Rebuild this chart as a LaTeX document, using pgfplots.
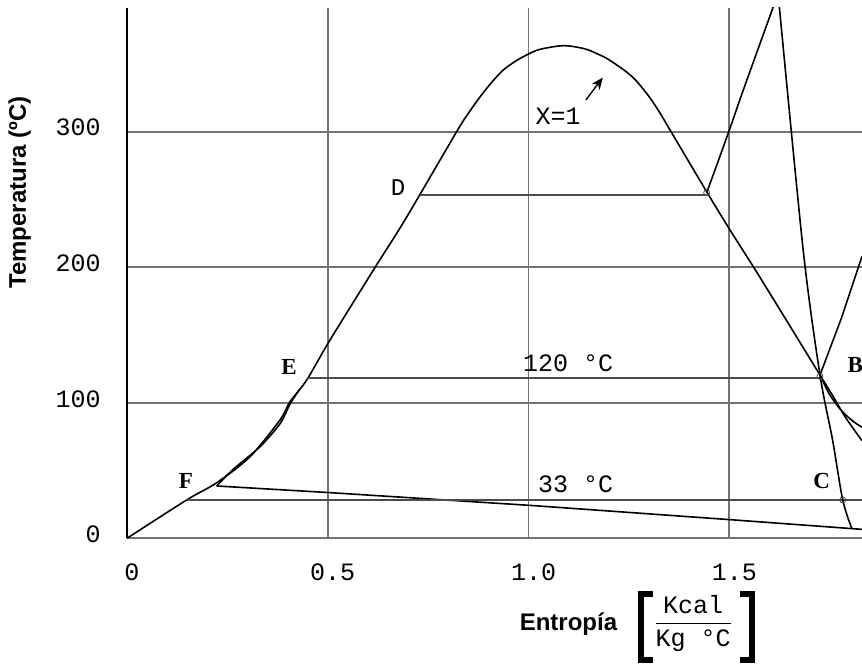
\documentclass[border=0pt]{standalone}
\usepackage{pgfplots}
\pgfplotsset{compat=1.18}
\usepackage{fontspec}
\setmainfont{Liberation Serif}
\setsansfont{Liberation Sans}
\setmonofont{Liberation Mono}
\usetikzlibrary{arrows.meta}
\begin{document}
\begin{tikzpicture}
\begin{axis}[name=ax, width=367.5pt, height=265.15pt, scale only axis,
  xmin=0, xmax=1.8306, ymin=0, ymax=391.3,
  axis lines*=left,
  x axis line style={black!55, line width=0.9pt},
  y axis line style={black, line width=0.9pt},
  xtick={0,0.5,1,1.5}, xticklabels={0,0.5,1.0,1.5},
  ytick={0,100,200,300}, yticklabels={0,100,200,300},
  major tick length=0pt,
  grid=major, grid style={black!55, line width=0.8pt},
  tick label style={font=\fontsize{12.5}{14}\selectfont\ttfamily, inner sep=0pt},
  xticklabel style={anchor=north, yshift=-12.5pt, xshift=2.5pt},
  yticklabel style={anchor=east, xshift=-13pt, yshift=2pt},
  clip=true,
]
% saturation dome
\addplot[black, line width=0.8pt, smooth, tension=0.5] coordinates {
 (0,0) (0.1487,28.3) (0.2234,41) (0.3064,60.2) (0.381,87.3) (0.406,100.8)
 (0.4476,116.8) (0.5056,146.3) (0.618,200) (0.692,234.8) (0.821,300)
 (0.85,313.5) (0.88,326) (0.91,337) (0.937,345.5) (0.97,352.5) (1.0037,357.9) (1.03,360.9)
 (1.087,363.5) (1.14,361.2) (1.178,356.6) (1.20,353.2) (1.2446,344)
 (1.27,337) (1.30,326) (1.325,315) (1.3524,301.3) (1.4438,255.7) (1.4976,229.5) (1.535,212) (1.5766,192.5)
 (1.726,120.5) (1.76,104) (1.79,89) (1.8306,72)
};
% low line and liquid curve
\addplot[black, line width=0.8pt] coordinates {
 (1.8306,6.6) (1.5,13.8) (1.0037,24.3) (0.505,33.7) (0.2234,38.6)
};
\addplot[black, line width=0.8pt, smooth] coordinates {
 (0.2234,38.6) (0.265,51) (0.331,67.5) (0.381,84.5) (0.406,99) (0.43,110)
};
% right lower second curve
\addplot[black, line width=0.8pt, smooth] coordinates {
 (1.726,120.5) (1.75,106) (1.78,94) (1.81,86) (1.8306,82)
};
% horizontal isotherms
\addplot[black!70, line width=0.8pt] coordinates {(0.7298,253.3) (1.4438,253.3)};
\addplot[black!70, line width=0.8pt] coordinates {(0.4476,118.5) (1.726,118.5)};
\addplot[black!70, line width=0.8pt] coordinates {(0.1487,28.3) (1.8306,28.3)};
% line rising from D point
\addplot[black, line width=0.8pt, smooth] coordinates {
 (1.4438,255) (1.4976,299) (1.535,330.8) (1.6097,392.2) (1.6216,402)
};
% steep line through B and C
\addplot[black, line width=0.8pt, smooth, tension=0.5] coordinates {
 (1.6216,402) (1.684,213) (1.726,120.5) (1.757,73) (1.7826,28.3) (1.805,7.4)
};
% line rising from B
\addplot[black, line width=0.8pt] coordinates {(1.726,120.5) (1.78,163) (1.8306,208)};
% state points
\addplot[only marks, mark=o, mark size=1.5pt, black!70] coordinates {
 (1.4438,255) (1.726,119.5) (1.7826,28.3)
};
% arrow
\draw[-{Stealth[length=6pt,width=5pt]}, black, line width=0.7pt] (axis cs:1.1432,323.5) -- (axis cs:1.185,340);
% labels
\node[font=\fontsize{12.5}{14}\selectfont\ttfamily, inner sep=0pt] at (axis cs:1.0735,311.5) {X=1};
\node[font=\fontsize{12.5}{14}\selectfont\ttfamily, inner sep=0pt, anchor=east] at (axis cs:1.212,129.5) {120 °C};
\node[font=\fontsize{12.5}{14}\selectfont\ttfamily, inner sep=0pt, anchor=east] at (axis cs:1.212,40) {33 °C};
\node[font=\fontsize{12}{14}\selectfont\ttfamily, inner sep=0pt] at (axis cs:0.675,258.6) {D};
\node[font=\fontsize{11.5}{14}\selectfont\bfseries, inner sep=0pt] at (axis cs:0.4035,126.5) {E};
\node[font=\fontsize{11.5}{14}\selectfont\bfseries, inner sep=0pt] at (axis cs:0.147,42.5) {F};
\node[font=\fontsize{11.5}{14}\selectfont\bfseries, inner sep=0pt] at (axis cs:1.730,42) {C};
\node[font=\fontsize{11.5}{14}\selectfont\bfseries, inner sep=0pt, anchor=west] at (axis cs:1.794,127.9) {B};
\end{axis}
% axis titles
\node[rotate=90, anchor=base, inner sep=0pt, font=\fontsize{12}{14}\selectfont\sffamily\bfseries]
  at ([shift={(-50.5pt,172.9pt)}]ax.south west) {Temperatura (ºC)};
\node[anchor=base west, inner sep=0pt, font=\fontsize{12}{14}\selectfont\sffamily\bfseries]
  at ([shift={(196.2pt,-45.85pt)}]ax.south west) {Entropía};
\node[inner sep=0pt, font=\fontsize{12.5}{15}\selectfont]
  at ([shift={(283pt,-42.5pt)}]ax.south west) {$\displaystyle\frac{\texttt{Kcal}}{\texttt{Kg °C}}$};
\draw[line width=3pt] ([shift={(263pt,-27.85pt)}]ax.south west) -- ++(-6pt,0) -- ++(0,-33pt) -- ++(6pt,0);
\draw[line width=3pt] ([shift={(306.5pt,-27.85pt)}]ax.south west) -- ++(6pt,0) -- ++(0,-33pt) -- ++(-6pt,0);
\pgfresetboundingbox
\path ([shift={(-63.5pt,-62.85pt)}]ax.south west) rectangle ([shift={(0pt,4pt)}]ax.north east);
\end{tikzpicture}
\end{document}
